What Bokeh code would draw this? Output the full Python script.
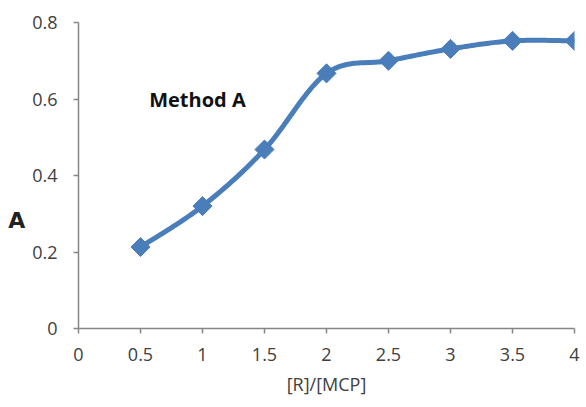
import numpy as np
from bokeh.plotting import figure
from bokeh.models import Range1d, FixedTicker, Label
from bokeh.embed import file_html
from bokeh.resources import INLINE

ratio = [0.5, 1.0, 1.5, 2.0, 2.5, 3.0, 3.5, 4.0]
absorbance = [0.213, 0.32, 0.468, 0.667, 0.70, 0.731, 0.752, 0.752]
x_ticks = [0, 0.5, 1, 1.5, 2, 2.5, 3, 3.5, 4]
y_ticks = [0, 0.2, 0.4, 0.6, 0.8]

FONT = "Open Sans"
TXT = "#404040"
BLUE = "#4a7ebb"

W, H = 586, 400
p = figure(width=W, height=H, output_backend="svg", toolbar_location=None,
           x_range=Range1d(0, 4), y_range=Range1d(0, 0.8),
           min_border_left=78, min_border_right=W - 574, min_border_top=22, min_border_bottom=H - 328)
p.outline_line_color = None
p.grid.visible = False
p.background_fill_color = "white"

# smooth curve (Excel-like Catmull-Rom in pixel-normalized space)
xs = np.array(ratio); ys = np.array(absorbance)
sx = 496 / 4.0; sy = 306 / 0.8
P = np.column_stack([xs * sx, ys * sy])
cx, cy = [], []
n = len(P)
for i in range(n - 1):
    p0 = P[i - 1] if i > 0 else P[i]
    p1 = P[i]; p2 = P[i + 1]
    p3 = P[i + 2] if i + 2 < n else P[i + 1]
    c1 = p1 + (p2 - p0) / 6.0
    c2 = p2 - (p3 - p1) / 6.0
    t = np.linspace(0, 1, 30)[:, None]
    seg = ((1 - t) ** 3) * p1 + 3 * ((1 - t) ** 2) * t * c1 + 3 * (1 - t) * t ** 2 * c2 + t ** 3 * p2
    cx.extend(seg[:, 0] / sx); cy.extend(seg[:, 1] / sy)
p.line(cx, cy, line_color=BLUE, line_width=5, line_join="round", line_cap="round")
p.scatter(ratio, absorbance, marker="square", angle=np.pi / 4, size=13.5,
          fill_color=BLUE, line_color=BLUE, line_width=1)

for ax in (p.xaxis[0], p.yaxis[0]):
    ax.axis_line_color = "#868686"
    ax.axis_line_width = 1.5
    ax.major_tick_line_color = "#868686"
    ax.major_tick_line_width = 1.5
    ax.major_tick_out = 5
    ax.major_tick_in = 0
    ax.minor_tick_line_color = None
    ax.major_label_text_font = FONT
    ax.major_label_text_font_size = "18px"
    ax.major_label_text_color = TXT

p.xaxis.ticker = FixedTicker(ticks=x_ticks)
p.yaxis.ticker = FixedTicker(ticks=y_ticks)
p.xaxis.major_label_overrides = {0: "0", 4: "4"}
p.yaxis.major_label_overrides = {0: "0"}
p.xaxis.major_label_standoff = 14
p.yaxis.major_label_standoff = 16

p.xaxis.axis_label = "[R]/[MCP]"
p.xaxis.axis_label_text_font = FONT
p.xaxis.axis_label_text_font_style = "normal"
p.xaxis.axis_label_text_font_size = "18px"
p.xaxis.axis_label_text_color = TXT
p.xaxis.axis_label_standoff = 8

p.yaxis.axis_label = "\n\n\nA"
p.yaxis.axis_label_orientation = "horizontal"
p.yaxis.axis_label_text_font = "DejaVu Sans"
p.yaxis.axis_label_text_font_style = "bold"
p.yaxis.axis_label_text_font_size = "22px"
p.yaxis.axis_label_text_color = "#222222"
p.yaxis.axis_label_standoff = 4

p.add_layout(Label(x=0.57, y=0.6, text="Method A", text_font=FONT, text_font_size="20px",
                   text_font_style="bold", text_color="#111111",
                   text_align="left", text_baseline="middle"))

open("out.html", "w").write(file_html(p, INLINE))
